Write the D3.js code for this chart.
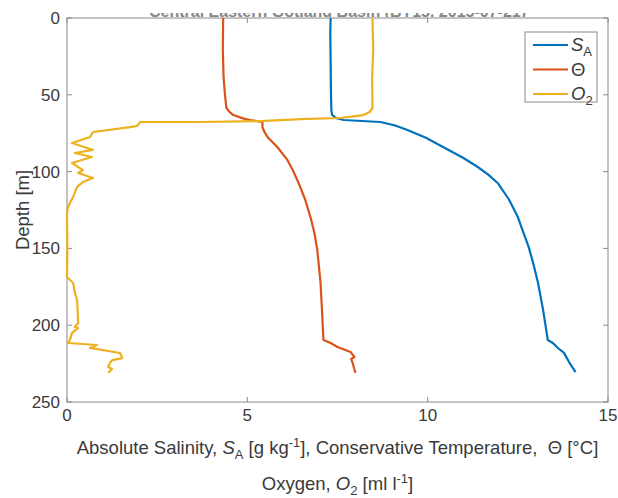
<!DOCTYPE html>
<html>
<head>
<meta charset="utf-8">
<script src="https://cdn.jsdelivr.net/npm/d3@7"></script>
<style>
  body { margin: 0; background: #fff; }
  svg { display: block; font-family: "Liberation Sans", Arial, sans-serif; }
</style>
</head>
<body>
<div id="chart"></div>
<script>
// profile readings: depth [m] and value
const saDepth = [0, 10, 30, 50, 60, 63, 65, 66.4, 67.7, 70, 72.9, 78, 85.9, 91, 97, 102, 107.4, 118, 129.6, 140, 149, 160, 172.5, 190, 209.6, 211.6, 215, 218, 224, 230.5];
const saValue = [7.31, 7.30, 7.31, 7.32, 7.33, 7.35, 7.45, 7.67, 8.69, 9.1, 9.44, 9.95, 10.58, 10.98, 11.39, 11.68, 11.94, 12.25, 12.5, 12.66, 12.8, 12.93, 13.06, 13.2, 13.33, 13.47, 13.62, 13.78, 13.92, 14.1];

const ctDepth = [0, 20, 38, 50, 58.6, 61, 63.2, 65.5, 66.4, 67.7, 71, 74, 77.5, 84, 92.4, 100, 107.4, 118, 129.6, 140, 151, 172.5, 190, 209.6, 211.6, 214.2, 216, 217.4, 220.7, 222, 224.6, 228, 231];
const ctValue = [4.33, 4.32, 4.34, 4.38, 4.42, 4.5, 4.61, 4.9, 5.08, 5.42, 5.42, 5.47, 5.56, 5.83, 6.11, 6.28, 6.42, 6.6, 6.75, 6.86, 6.94, 7.03, 7.07, 7.11, 7.31, 7.5, 7.7, 7.86, 7.97, 7.88, 7.92, 7.96, 8.0];

const oxDepth = [0, 20, 40, 58.6, 61.2, 63.2, 65.1, 65.8, 67.1, 67.7, 67.7, 70.3, 71, 74.2, 77.5, 81.4, 85.9, 87.9, 90.5, 94.4, 99, 100.9, 104.2, 106.8, 110, 116.5, 120.4, 123, 127, 150, 168.6, 172.5, 179, 183.6, 198.6, 201.2, 201.8, 205, 209.6, 211.6, 212.9, 214.8, 218.1, 221.4, 222.7, 224.6, 227.2, 228.5, 231];
const oxValue = [8.47, 8.49, 8.46, 8.47, 8.39, 8.22, 7.58, 6.47, 5.36, 3.69, 2.03, 1.94, 1.75, 0.72, 0.64, 0.14, 0.72, 0.22, 0.69, 0.14, 0.44, 0.31, 0.72, 0.44, 0.28, 0.17, 0.08, 0.03, 0.0, 0.01, 0.0, 0.17, 0.22, 0.28, 0.31, 0.22, 0.31, 0.14, 0.08, 0.03, 0.83, 0.64, 1.47, 1.53, 1.25, 1.19, 1.14, 1.25, 1.14];

const xTicks = [0, 5, 10, 15];
const yTicks = [0, 50, 100, 150, 200, 250];
const titleText = 'Central Eastern Gotland Basin (BY15, 2015-07-21)';

const series = [
  { name: 'SA', depth: saDepth, value: saValue, color: '#0072BD' },
  { name: 'CT', depth: ctDepth, value: ctValue, color: '#D95319' },
  { name: 'O2', depth: oxDepth, value: oxValue, color: '#EDB120' }
];

const W = 618, H = 498;
const margin = { top: 18, right: 10, bottom: 96, left: 67 };
const axisColor = '#8a8a8a';
const textColor = '#3a3a3a';
const tickFont = 17;
const labelFont = 18.5;
const subFont = 13;

const svg = d3.select('#chart').append('svg')
  .attr('width', W)
  .attr('height', H);

const x = d3.scaleLinear().domain([0, 15]).range([margin.left, W - margin.right]);
const y = d3.scaleLinear().domain([0, 250]).range([margin.top, H - margin.bottom]);

// title, mostly cut off at top like the reference
svg.append('clipPath').attr('id', 'title-clip')
  .append('rect').attr('x', 0).attr('y', 13).attr('width', W).attr('height', 4);
svg.append('text')
  .attr('clip-path', 'url(#title-clip)')
  .attr('x', (x(0) + x(15)) / 2)
  .attr('y', 17)
  .attr('text-anchor', 'middle')
  .style('font-size', '16px')
  .style('font-weight', 'bold')
  .attr('fill', '#888')
  .text(titleText);

// box
svg.append('rect')
  .attr('x', x(0)).attr('y', y(0))
  .attr('width', x(15) - x(0)).attr('height', y(250) - y(0))
  .attr('fill', 'none').attr('stroke', axisColor).attr('stroke-width', 1);

const tickLen = 5;
const ticks = svg.append('g').attr('stroke', axisColor).attr('stroke-width', 1);
xTicks.forEach(t => {
  ticks.append('line').attr('x1', x(t)).attr('x2', x(t)).attr('y1', y(250)).attr('y2', y(250) - tickLen);
  ticks.append('line').attr('x1', x(t)).attr('x2', x(t)).attr('y1', y(0)).attr('y2', y(0) + tickLen);
});
yTicks.forEach(t => {
  ticks.append('line').attr('x1', x(0)).attr('x2', x(0) + tickLen).attr('y1', y(t)).attr('y2', y(t));
  ticks.append('line').attr('x1', x(15)).attr('x2', x(15) - tickLen).attr('y1', y(t)).attr('y2', y(t));
});

svg.append('g').selectAll('text').data(xTicks).join('text')
  .attr('x', d => x(d)).attr('y', y(250) + 19)
  .attr('text-anchor', 'middle')
  .style('font-size', tickFont + 'px')
  .attr('fill', textColor)
  .text(d => d);

svg.append('g').selectAll('text').data(yTicks).join('text')
  .attr('x', x(0) - 7).attr('y', d => y(d))
  .attr('dy', '0.35em')
  .attr('text-anchor', 'end')
  .style('font-size', tickFont + 'px')
  .attr('fill', textColor)
  .text(d => d);

// axis labels
svg.append('text')
  .attr('transform', `translate(29, ${(y(0) + y(250)) / 2}) rotate(-90)`)
  .attr('text-anchor', 'middle')
  .style('font-size', labelFont + 'px')
  .attr('fill', textColor)
  .text('Depth [m]');

const xl1 = svg.append('text')
  .attr('x', (x(0) + x(15)) / 2).attr('y', 454)
  .attr('text-anchor', 'middle')
  .style('font-size', labelFont + 'px')
  .attr('fill', textColor);
xl1.append('tspan').text('Absolute Salinity, ');
xl1.append('tspan').style('font-style', 'italic').text('S');
xl1.append('tspan').attr('dy', 5).style('font-size', subFont + 'px').text('A');
xl1.append('tspan').attr('dy', -5).text(' [g kg');
xl1.append('tspan').attr('dy', -7).style('font-size', subFont + 'px').text('-1');
xl1.append('tspan').attr('dy', 7).text('], Conservative Temperature, \u00A0\u0398 [\u00B0C]');

const xl2 = svg.append('text')
  .attr('x', (x(0) + x(15)) / 2).attr('y', 490)
  .attr('text-anchor', 'middle')
  .style('font-size', labelFont + 'px')
  .attr('fill', textColor);
xl2.append('tspan').text('Oxygen, ');
xl2.append('tspan').style('font-style', 'italic').text('O');
xl2.append('tspan').attr('dy', 5).style('font-size', subFont + 'px').text('2');
xl2.append('tspan').attr('dy', -5).text(' [ml l');
xl2.append('tspan').attr('dy', -7).style('font-size', subFont + 'px').text('-1');
xl2.append('tspan').attr('dy', 7).text(']');

// profiles
const line = d3.line()
  .x(d => x(d[1]))
  .y(d => y(d[0]));

svg.append('g').selectAll('path').data(series).join('path')
  .attr('d', s => line(d3.zip(s.depth, s.value)))
  .attr('fill', 'none')
  .attr('stroke', s => s.color)
  .attr('stroke-width', 2.2)
  .attr('stroke-linejoin', 'round');

// legend
const legend = svg.append('g').attr('transform', 'translate(525, 32)');
legend.append('rect')
  .attr('width', 72).attr('height', 70)
  .attr('fill', '#fff').attr('stroke', axisColor).attr('stroke-width', 1);

const items = legend.selectAll('g').data(series).join('g')
  .attr('transform', (d, i) => `translate(0, ${13 + i * 24.5})`);
items.append('line')
  .attr('x1', 8).attr('x2', 43).attr('y1', 0).attr('y2', 0)
  .attr('stroke', d => d.color).attr('stroke-width', 2.2);

const lt = items.append('text')
  .attr('x', 46).attr('y', 0).attr('dy', '0.35em')
  .style('font-size', labelFont + 'px')
  .attr('fill', textColor);
lt.each(function (d) {
  const t = d3.select(this);
  if (d.name === 'SA') {
    t.append('tspan').style('font-style', 'italic').text('S');
    t.append('tspan').attr('dy', 5).style('font-size', subFont + 'px').text('A');
  } else if (d.name === 'CT') {
    t.append('tspan').text('\u0398');
  } else {
    t.append('tspan').style('font-style', 'italic').text('O');
    t.append('tspan').attr('dy', 5).style('font-size', subFont + 'px').text('2');
  }
});
</script>
</body>
</html>
